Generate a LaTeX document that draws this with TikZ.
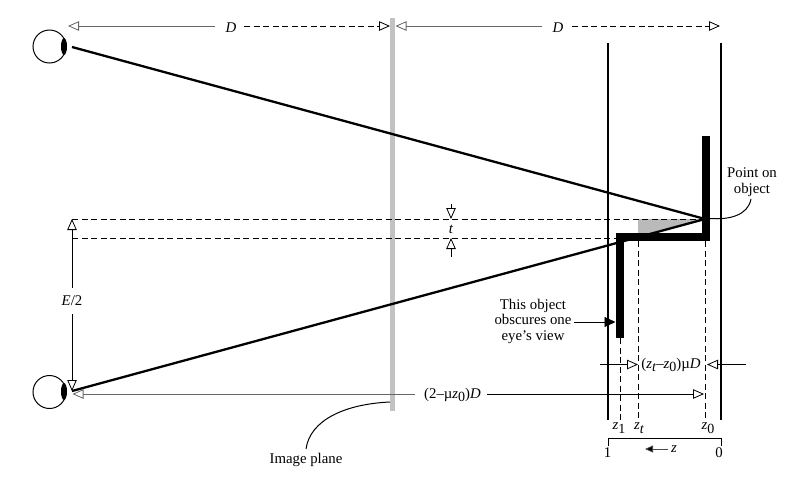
\documentclass[tikz,border=0pt]{standalone}
\usepackage{fontspec}
\setmainfont{Liberation Serif}
\usetikzlibrary{arrows.meta}
\newcommand{\subsc}[1]{\raisebox{-3.5pt}{\fontsize{14}{14}\selectfont #1}}
\tikzset{
  lab/.style={font=\fontsize{14.8}{15.5}\selectfont, inner sep=0pt, align=center},
  openhead/.style={-{Triangle[open,length=11pt,width=9.5pt,line width=.8pt,fill=white]}},
  dim/.style={line width=.8pt, openhead},
  faint/.style={dim, draw=black!60},
  dashdim/.style={dim, dash pattern=on 6pt off 3.5pt},
  guide/.style={line width=.8pt, dash pattern=on 6pt off 3.5pt},
  rail/.style={line width=2pt},
  sight/.style={line width=2.3pt},
  slab/.style={line width=7.5pt, line cap=butt, line join=miter},
  callout/.style={line width=1pt},
  eyeball/.style={circle, draw, line width=1pt, minimum size=33pt, inner sep=0pt},
}
\begin{document}
\begin{tikzpicture}[x=1pt,y=-1pt]
\useasboundingbox (0,0) rectangle (791,488);
% image plane
\fill[black!24] (390.2,18) rectangle (395.2,411);
% eyes
\node[eyeball] (eyeT) at (49.5,46.5) {};
\node[eyeball] (eyeB) at (49.5,392) {};
\fill (64,46.5) ellipse [x radius=3pt, y radius=8.5pt];
\fill (64,391.5) ellipse [x radius=3pt, y radius=8.5pt];
% key points
\coordinate (P) at (705,219);
\coordinate (sT) at (72,47);
\coordinate (sB) at (72,391);
% grey wedge
\fill[black!27] (638,219) -- (P) -- (654,233) -- (638,233) -- cycle;
% dashed guides
\coordinate (g1a) at (72,219);
\coordinate (g2a) at (72,238);
\coordinate (g2b) at (616,238);
\draw[guide] (g1a) -- (P);
\draw[guide] (g2a) -- (g2b);
\draw[guide] (620,338) -- (620,420);
\draw[guide] (638,241) -- (638,420);
\draw[guide] (705.5,241) -- (705.5,420);
% rails
\draw[rail] (608,43) -- (608,420);
\draw[rail] (721,43) -- (721,420);
% sight lines
\draw[sight] (sT) -- (P);
\draw[sight] (sB) -- (P);
% object
\draw[slab] (706,136) -- (706,237) -- (620,237) -- (620,338);
% top dimensions
\node[lab] (D1) at (231,28) {\textit{D}};
\node[lab] (D2) at (558,28) {\textit{D}};
\coordinate (a1) at (68,26);
\coordinate (a2) at (390,26);
\coordinate (a3) at (395.5,26);
\coordinate (a4) at (720,26);
\draw[faint] (215,26) -- (a1);
\draw[dashdim] (244,26) -- (a2);
\draw[faint] (542,26) -- (a3);
\draw[dashdim] (572,26) -- (a4);
% t
\node[lab] (t) at (451,229) {\textit{t}};
\coordinate (t1) at (451,219);
\coordinate (t2) at (451,238);
\draw[dim] (451,204) -- (t1);
\draw[dim] (451,257) -- (t2);
% E/2
\node[lab] (E) at (72,301) {\textit{E}/2};
\coordinate (e1) at (72,219);
\coordinate (e2) at (72,391);
\draw[dim] (E.north) ++(0,-8) -- (e1);
\draw[dim] (E.south) ++(0,8) -- (e2);
% bottom dimension
\node[lab] (mu) at (452.5,395) {(2–µ\textit{z}\subsc{0})\textit{D}};
\coordinate (b1) at (72.5,394);
\coordinate (b2) at (704,394);
\draw[faint] (415,394) -- (b1);
\draw[dim] (487,394) -- (b2);
% middle dimension
\node[lab] (zz) at (671,365) {(\textit{z}\subsc{\textit{t}}–\textit{z}\subsc{0})µ\textit{D}};
\coordinate (c1) at (638,364.5);
\coordinate (c2) at (707,364.5);
\draw[dim] (600,364.5) -- (c1);
\draw[dim] (746,364.5) -- (c2);
% z labels
\node[lab] (z1) at (619,428) {\textit{z}\subsc{1}};
\node[lab] (zt) at (639,428) {\textit{z}\subsc{\textit{t}}};
\node[lab] (z0) at (708,428) {\textit{z}\subsc{0}};
% scale
\draw[line width=.9pt] (608,446) -- (608,438) -- (721,438) -- (721,446);
\node[lab] (one) at (607.5,452.5) {1};
\node[lab] (zero) at (719,452.5) {0};
\node[lab] (zarr) at (674,449) {\textit{z}};
\draw[line width=.8pt, draw=black!70, -{Triangle[length=8pt,width=7pt,fill=black]}] (zarr.west) ++(-3,0) -- (645,449);
% callouts
\node[lab] (obs) at (533,321) {This object\\obscures one\\eye’s view};
\coordinate (o1) at (615.5,322);
\draw[line width=.9pt, -{Triangle[length=11pt,width=10pt]}] (574,322) -- (o1);
\node[lab] (pt) at (752,182) {Point on\\object};
\draw[callout] (710,218.5) .. controls (730,220) and (748,215) .. (751,199);
\node[lab] (ip) at (306,460) {Image plane};
\draw[callout] (390,402) .. controls (345,404) and (310,420) .. (306,449);
\end{tikzpicture}
\end{document}
